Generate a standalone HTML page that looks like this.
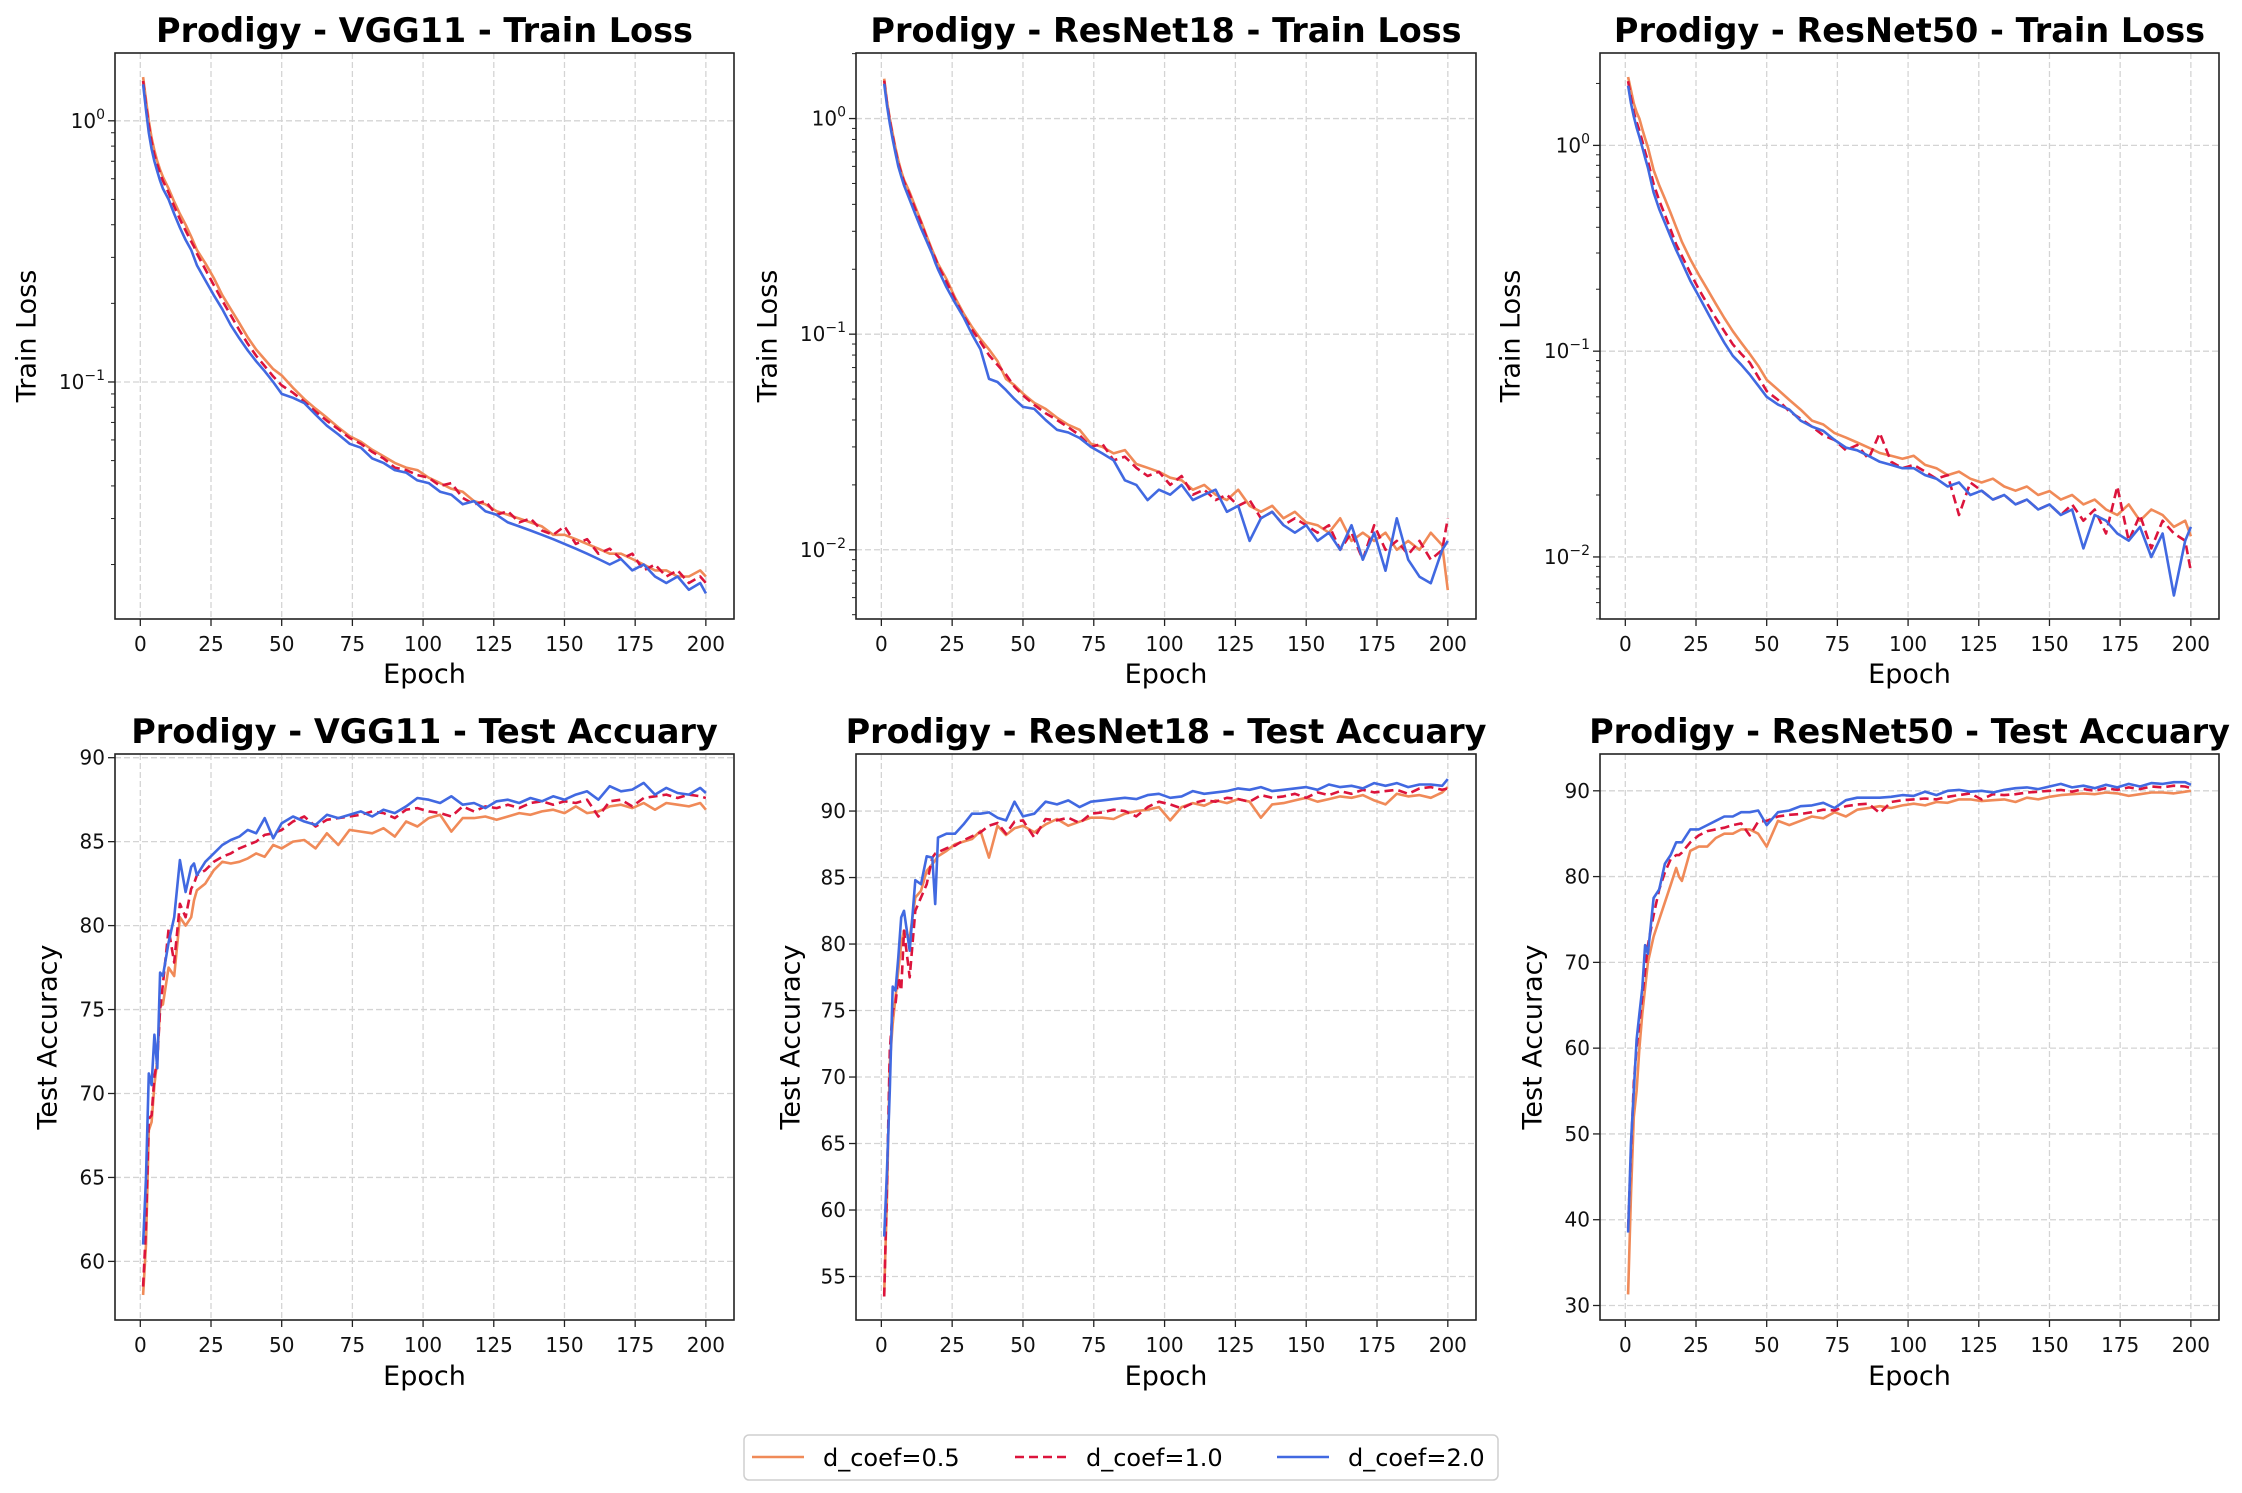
<!DOCTYPE html>
<html><head><meta charset="utf-8"><title>Prodigy training curves</title>
<style>
html,body{margin:0;padding:0;background:#fff;}
svg{display:block;font-family:"DejaVu Sans","Liberation Sans",sans-serif;}
</style></head>
<body>
<svg id="fig" xmlns="http://www.w3.org/2000/svg" width="2242" height="1493" viewBox="0 0 2242 1493">
<rect x="0" y="0" width="2242" height="1493" fill="#fff"/>
</svg>
<script>
const epochs=[1,2,3,4,5,6,7,8,10,12,14,16,18,19,20,23,26,29,32,35,38,41,44,47,50,54,58,62,66,70,74,78,82,86,90,94,98,102,106,110,114,118,122,126,130,134,138,142,146,150,154,158,162,166,170,174,178,182,186,190,194,198,200];
const seriesNames=["d_coef=0.5","d_coef=1.0","d_coef=2.0"];
const xTicks=[0,25,50,75,100,125,150,175,200];

// VGG11 train loss
const vggLossA=[1.47,1.2,1.0,0.86,0.77,0.70,0.65,0.61,0.55,0.49,0.44,0.40,0.36,0.34,0.32,.285,.25,.215,.19,.168,.148,.133,.122,.112,.106,.095,.086,.079,.073,.067,.062,.059,.055,.052,.049,.047,.046,.043,.041,.039,.038,.035,.034,.032,.031,.030,.029,.028,.026,.026,.025,.024,.023,.022,.022,.021,.020,.019,.019,.018,.018,.019,.018];
const vggLossB=[1.42,1.15,0.96,0.83,0.74,0.68,0.63,0.59,0.53,0.47,0.42,0.38,0.345,0.33,0.31,.27,.235,.205,.18,.158,.14,.126,.115,.105,.097,.091,.084,.077,.071,.066,.061,.058,.054,.051,.047,.046,.044,.043,.040,.041,.036,.034,.035,.031,.032,.029,.030,.027,.026,.028,.024,.025,.022,.023,.021,.022,.019,.020,.018,.019,.017,.018,.017];
const vggLossC=[1.38,1.1,0.9,0.78,0.70,0.64,0.59,0.55,0.50,0.44,0.39,0.35,0.32,0.30,0.28,.245,.215,.19,.165,.147,.132,.12,.11,.1,.09,.087,.083,.075,.068,.063,.058,.056,.051,.049,.046,.045,.042,.041,.038,.037,.034,.035,.032,.031,.029,.028,.027,.026,.025,.024,.023,.022,.021,.020,.021,.019,.020,.018,.017,.018,.016,.017,.0155];
// ResNet18 train loss
const r18LossA=[1.53,1.2,1.0,0.85,0.73,0.64,0.57,0.52,0.455,0.39,0.335,0.285,0.245,0.228,0.212,.18,.148,.125,.108,.095,.085,.075,.062,.058,.053,.048,.045,.041,.038,.036,.031,.030,.028,.029,.025,.024,.023,.0216,.021,.019,.020,.018,.017,.019,.016,.015,.016,.014,.015,.0134,.013,.012,.014,.011,.012,.011,.012,.010,.011,.010,.012,.0105,.0065];
const r18LossB=[1.5,1.18,0.98,0.83,0.71,0.62,0.56,0.51,0.445,0.38,0.33,0.28,0.24,0.225,0.208,.175,.145,.122,.105,.092,.080,.072,.065,.057,.052,.047,.043,.040,.037,.034,.030,.031,.026,.027,.024,.022,.023,.020,.022,.018,.019,.017,.018,.016,.017,.014,.015,.013,.014,.013,.012,.013,.010,.012,.009,.013,.010,.011,.0095,.011,.009,.010,.014];
const r18LossC=[1.45,1.15,0.95,0.8,0.69,0.60,0.54,0.49,0.42,0.36,0.31,0.27,0.235,0.215,0.2,.165,.14,.12,.1,.085,.062,.06,.055,.05,.046,.045,.040,.036,.035,.033,.030,.028,.026,.021,.020,.017,.019,.018,.020,.017,.018,.019,.015,.016,.011,.014,.015,.013,.012,.013,.011,.012,.010,.013,.009,.012,.008,.014,.009,.0075,.007,.010,.011];
// ResNet50 train loss
const r50LossA=[2.15,1.85,1.6,1.45,1.35,1.2,1.08,0.98,0.76,0.64,0.55,0.47,0.40,0.37,0.34,.28,.235,.2,.17,.145,.125,.11,.097,.085,.0726,.065,.058,.052,.046,.044,.040,.038,.036,.034,.032,.031,.030,.031,.028,.027,.025,.026,.024,.023,.024,.022,.021,.022,.020,.0209,.019,.020,.018,.019,.017,.016,.018,.015,.017,.016,.014,.015,.0126];
const r50LossB=[2.05,1.7,1.45,1.3,1.18,1.05,0.93,0.84,0.65,0.54,0.46,0.39,0.33,0.31,0.29,.24,.2,.17,.145,.125,.108,.097,.088,.075,.064,.058,.051,.047,.043,.039,.037,.033,.035,.030,.040,.029,.027,.028,.026,.024,.025,.016,.023,.021,.019,.020,.018,.019,.017,.018,.016,.018,.015,.017,.013,.022,.012,.016,.011,.015,.013,.012,.0085];
const r50LossC=[1.95,1.6,1.38,1.22,1.1,0.98,0.87,0.78,0.59,0.49,0.42,0.36,0.31,0.29,0.27,.22,.185,.155,.13,.11,.095,.086,.077,.068,.06,.055,.052,.046,.043,.041,.037,.034,.033,.031,.029,.028,.027,.027,.025,.024,.022,.023,.020,.021,.019,.020,.018,.019,.017,.018,.016,.017,.011,.016,.015,.013,.012,.014,.010,.013,.0065,.012,.014];
// VGG11 test acc
const vggAccA=[58,61,67.8,68.3,70.5,72,75.2,75.3,77.5,77,80.5,80,80.5,81.5,82.1,82.5,83.3,83.8,83.7,83.8,84.0,84.3,84.1,84.8,84.6,85.0,85.1,84.6,85.5,84.8,85.7,85.6,85.5,85.8,85.3,86.2,85.9,86.4,86.6,85.6,86.4,86.4,86.5,86.3,86.5,86.7,86.6,86.8,86.9,86.7,87.1,86.7,86.8,87.1,87.2,87.0,87.3,86.9,87.3,87.2,87.1,87.3,86.9];
const vggAccB=[58.5,62,68.5,68.7,71,72,75,76.5,79.8,77.8,81.3,80.5,82.2,82.5,83.0,83.3,83.8,84.1,84.3,84.6,84.8,85.0,85.4,85.5,85.7,86.2,86.5,85.9,86.3,86.4,86.5,86.6,86.8,86.7,86.4,86.9,87.0,86.8,86.7,86.5,87.1,86.8,87.1,87.0,87.2,87.0,87.3,87.4,87.2,87.4,87.3,87.5,86.5,87.4,87.5,87.1,87.6,87.7,87.8,87.6,87.8,87.7,87.6];
const vggAccC=[61,65,71.2,70.5,73.5,71.5,77.2,77,79,80.5,83.9,82,83.5,83.7,83,83.8,84.3,84.8,85.1,85.3,85.7,85.5,86.4,85.2,86.1,86.5,86.2,86.0,86.6,86.4,86.6,86.8,86.5,86.9,86.7,87.1,87.6,87.5,87.3,87.7,87.2,87.3,87.0,87.4,87.5,87.3,87.6,87.4,87.7,87.5,87.8,88.0,87.5,88.3,88.0,88.1,88.5,87.8,88.2,87.9,87.8,88.2,87.9];
// ResNet18 test acc
const r18AccA=[53.7,61,71,74,76,78,80,81,80.5,83.5,84,85.5,86,86.3,86.6,87.0,87.5,87.7,87.9,88.5,86.5,88.9,88.2,88.7,88.9,88.4,89.0,89.4,88.9,89.2,89.5,89.5,89.4,89.8,90.0,90.1,90.3,89.3,90.3,90.6,90.4,90.8,90.6,90.9,90.7,89.5,90.5,90.6,90.8,91.0,90.7,90.9,91.1,91.0,91.2,90.8,90.5,91.3,91.1,91.2,91.0,91.4,91.8];
const r18AccB=[53.5,62,72,75,75.5,77.5,76.5,81,77.5,82.5,83.5,84.5,86.5,86.8,86.9,87.2,87.4,87.8,88.1,88.4,88.9,89.1,88.3,89.2,89.3,88.0,89.4,89.3,89.5,89.1,89.8,89.9,90.1,90.0,89.6,90.3,90.7,90.5,90.2,90.6,90.8,90.7,91.0,90.9,90.7,91.2,91.0,91.1,91.3,91.0,91.4,91.2,91.5,91.3,91.6,91.4,91.5,91.6,91.3,91.7,91.8,91.6,91.7];
const r18AccC=[58,63,69,76.8,76.5,79,82,82.5,79.5,84.8,84.5,86.6,86.5,83,88,88.3,88.3,89.0,89.8,89.8,89.9,89.5,89.3,90.7,89.6,89.8,90.7,90.5,90.8,90.3,90.7,90.8,90.9,91.0,90.9,91.2,91.3,91.0,91.1,91.5,91.3,91.4,91.5,91.7,91.6,91.8,91.5,91.6,91.7,91.8,91.6,92.0,91.8,91.9,91.7,92.1,91.9,92.1,91.8,92.0,92.0,91.9,92.4];
// ResNet50 test acc
const r50AccA=[31.3,43,52,55,60,64,67,70,73,75,77,79,81,80,79.5,83,83.5,83.5,84.5,85,85,85.5,85.5,85.0,83.5,86.5,86.0,86.5,87.0,86.8,87.5,87.0,87.8,88.0,88.2,88.0,88.3,88.5,88.3,88.7,88.6,89.0,89.0,88.8,88.9,89.0,88.7,89.2,89.0,89.3,89.5,89.6,89.7,89.6,89.8,89.7,89.4,89.6,89.8,89.8,89.7,89.9,90.0];
const r50AccB=[39,48,56,60,63,66,69,72,75.5,78.5,80.5,82,82.5,82.5,82.8,84,84.8,85.3,85.5,85.7,86.0,86.2,84.8,86.4,86.5,87.0,87.2,87.3,87.5,87.8,87.7,88.2,88.4,88.5,87.4,88.7,88.9,89.0,89.1,89.0,89.3,89.5,89.7,89.0,89.6,89.5,89.6,89.8,89.9,90.0,90.1,89.9,90.2,90.0,90.3,90.1,90.4,90.2,90.5,90.4,90.6,90.5,90.3];
const r50AccC=[38.5,49,55,61,64,67,72,71,77.5,78.5,81.5,82.5,84,84,84,85.5,85.5,86,86.5,87,87,87.5,87.5,87.7,86,87.5,87.7,88.2,88.3,88.6,88.0,88.9,89.2,89.2,89.2,89.3,89.5,89.4,89.9,89.5,90.0,90.1,89.9,90.0,89.8,90.1,90.3,90.4,90.2,90.5,90.8,90.4,90.6,90.3,90.7,90.4,90.8,90.5,90.9,90.8,91.0,91.0,90.7];

const accTicksVgg=[60,65,70,75,80,85,90];
const accTicksR18=[55,60,65,70,75,80,85,90];
const accTicksR50=[30,40,50,60,70,80,90];
const logTicks=[-2,-1,0];

const COLORS=["#F08A58","#DC143C","#4169E1"];
const DASH=[null,"9,5",null];
const NS="http://www.w3.org/2000/svg";
const svg=document.getElementById('fig');
function mk(tag,attrs,parent){const e=document.createElementNS(NS,tag);for(const k in attrs)e.setAttribute(k,attrs[k]);(parent||svg).appendChild(e);return e;}

const cols=[[115,734],[856,1476],[1600,2219]];
const rows=[{top:53,bottom:619,titleY:42,tickY:651,labY:683},{top:754,bottom:1320,titleY:743,tickY:1352,labY:1385}];
const ylabX=[[27,48],[768,791],[1511,1533]];

const panels=[
 {r:0,c:0,title:"Prodigy - VGG11 - Train Loss",ylab:"Train Loss",log:true,ymin:-1.9075,ymax:0.2596,ticks:[-1,0],data:[vggLossA,vggLossB,vggLossC],key:"vgg11-loss"},
 {r:0,c:1,title:"Prodigy - ResNet18 - Train Loss",ylab:"Train Loss",log:true,ymin:-2.321,ymax:0.304,ticks:logTicks,data:[r18LossA,r18LossB,r18LossC],key:"resnet18-loss"},
 {r:0,c:2,title:"Prodigy - ResNet50 - Train Loss",ylab:"Train Loss",log:true,ymin:-2.3015,ymax:0.449,ticks:logTicks,data:[r50LossA,r50LossB,r50LossC],key:"resnet50-loss"},
 {r:1,c:0,title:"Prodigy - VGG11 - Test Accuary",ylab:"Test Accuracy",log:false,ymin:56.51,ymax:90.22,ticks:accTicksVgg,data:[vggAccA,vggAccB,vggAccC],key:"vgg11-acc"},
 {r:1,c:1,title:"Prodigy - ResNet18 - Test Accuary",ylab:"Test Accuracy",log:false,ymin:51.73,ymax:94.29,ticks:accTicksR18,data:[r18AccA,r18AccB,r18AccC],key:"resnet18-acc"},
 {r:1,c:2,title:"Prodigy - ResNet50 - Test Accuary",ylab:"Test Accuracy",log:false,ymin:28.31,ymax:94.29,ticks:accTicksR50,data:[r50AccA,r50AccB,r50AccC],key:"resnet50-acc"}
];

panels.forEach(p=>{
  const L=cols[p.c][0],R=cols[p.c][1],T=rows[p.r].top,B=rows[p.r].bottom;
  const g=mk('g',{});
  
  
  const xMin=-8.95,xMax=209.95;
  const X=v=>L+(v-xMin)/(xMax-xMin)*(R-L);
  const Y=v=>{const t=p.log?Math.log10(v):v;return B-(t-p.ymin)/(p.ymax-p.ymin)*(B-T);};
  const YT=t=>B-(t-p.ymin)/(p.ymax-p.ymin)*(B-T);
  const grid=mk('g',{},g);
  
  
  xTicks.forEach(t=>{
    const x=X(t);
    mk('line',{x1:x,x2:x,y1:T,y2:B,stroke:"#d4d4d4","stroke-width":1.3,"stroke-dasharray":"6,3"},grid);
    mk('line',{x1:x,x2:x,y1:B,y2:B+7,stroke:"#222","stroke-width":1.3},g);
    const tx=mk('text',{x:x,y:rows[p.r].tickY,"text-anchor":"middle","font-size":20,fill:"#111"},g);
    tx.textContent=t;
    
    
  });
  p.ticks.forEach(t=>{
    const y=YT(t);
    mk('line',{x1:L,x2:R,y1:y,y2:y,stroke:"#d4d4d4","stroke-width":1.3,"stroke-dasharray":"6,3"},grid);
    mk('line',{x1:L-7,x2:L,y1:y,y2:y,stroke:"#222","stroke-width":1.3},g);
    const tx=mk('text',{x:L-10,y:y+7,"text-anchor":"end","font-size":20,fill:"#111"},g);
    
    
    if(p.log){
      tx.textContent='10';
      const s=mk('tspan',{dy:-9,"font-size":14},tx);
      s.textContent=(t<0?'\u2212':'')+Math.abs(t);
    } else tx.textContent=t;
  });
  if(p.log){
    for(let d=Math.floor(p.ymin);d<=Math.ceil(p.ymax);d++){
      for(let m=2;m<=9;m++){
        const t=d+Math.log10(m);
        if(t>p.ymin&&t<p.ymax){const y=YT(t);mk('line',{x1:L-4,x2:L,y1:y,y2:y,stroke:"#222","stroke-width":1},g);}
      }
    }
  }
  p.data.forEach((arr,si)=>{
    const pts=arr.map((v,i)=>X(epochs[i]).toFixed(1)+','+Y(v).toFixed(1)).join(' ');
    const pl=mk('polyline',{points:pts,fill:"none",stroke:COLORS[si],"stroke-width":2.6,"stroke-linejoin":"round"},g);
    if(DASH[si])pl.setAttribute('stroke-dasharray',DASH[si]);
    
    
  });
  const fr=mk('rect',{x:L,y:T,width:R-L,height:B-T,fill:"none",stroke:"#222","stroke-width":1.6},g);
  
  
  const ti=mk('text',{x:(L+R)/2,y:rows[p.r].titleY,"text-anchor":"middle","font-size":33.5,"font-weight":"bold",fill:"#000"},g);
  ti.textContent=p.title;
  
  
  const xl=mk('text',{x:(L+R)/2,y:rows[p.r].labY,"text-anchor":"middle","font-size":27,fill:"#000"},g);
  xl.textContent="Epoch";
  
  
  const lx=ylabX[p.c][p.r],ly=(T+B)/2;
  const yl=mk('text',{x:lx,y:ly,"text-anchor":"middle","dominant-baseline":"central","font-size":27,fill:"#000",transform:`rotate(-90 ${lx} ${ly})`},g);
  yl.textContent=p.ylab;
  
  
});

// legend
const lg=mk('g',{});


mk('rect',{x:744,y:1435,width:754,height:45,rx:5,fill:"#fff",stroke:"#cfcfcf","stroke-width":1.5},lg);
const lineX=[752,1015,1277];
seriesNames.forEach((n,i)=>{
  const e=mk('g',{},lg);
  
  
  const ln=mk('line',{x1:lineX[i],x2:lineX[i]+52,y1:1457,y2:1457,stroke:COLORS[i],"stroke-width":2.6},e);
  if(DASH[i])ln.setAttribute('stroke-dasharray',DASH[i]);
  const t=mk('text',{x:lineX[i]+71,y:1466,"font-size":24,fill:"#000"},e);
  t.textContent=n;
});
</script>
</body></html>
